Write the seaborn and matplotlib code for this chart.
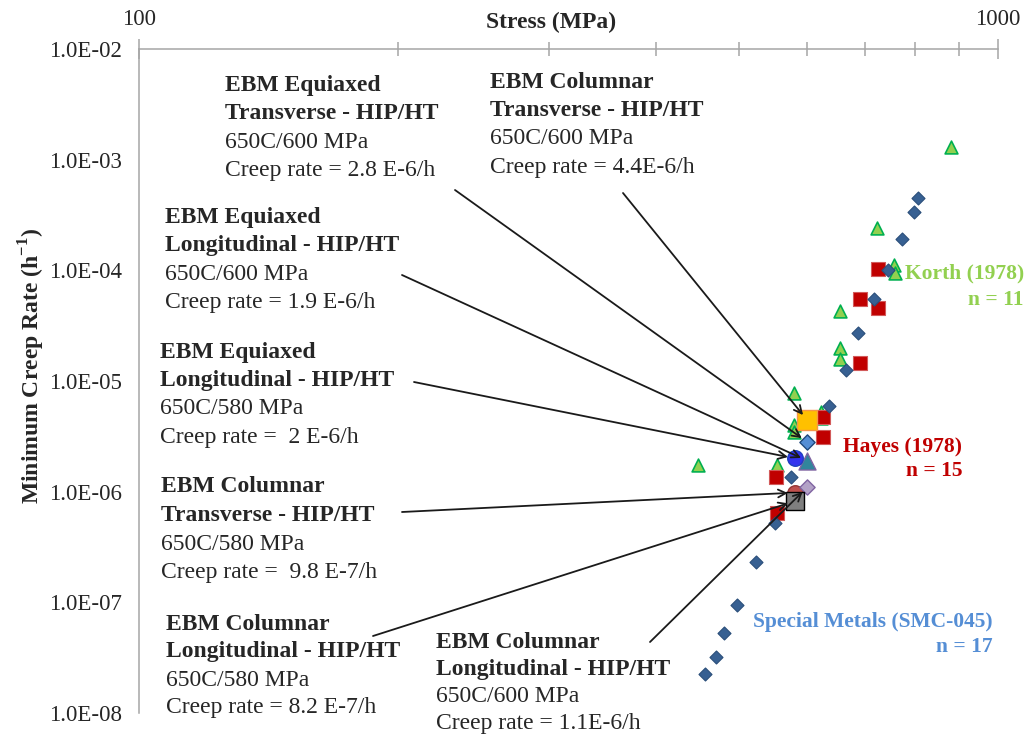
import numpy as np
import pandas as pd
import matplotlib
matplotlib.use("Agg")
import matplotlib.pyplot as plt
import matplotlib.ticker as mticker
import seaborn as sns

# ---------------- data ----------------
korth_stress = [882, 723, 757, 759, 655, 655, 655, 579, 622, 622, 579, 579, 448, 553]
korth_rate = [1.30e-3, 2.42e-4, 1.12e-4, 9.5e-5, 4.3e-5, 1.99e-5, 1.58e-5,
              7.8e-6, 5.26e-6, 4.64e-6, 4.0e-6, 3.47e-6, 1.75e-6, 1.75e-6]

hayes_stress = [725, 691, 725, 691, 626, 625, 551, 553]
hayes_rate = [1.03e-4, 5.52e-5, 4.57e-5, 1.46e-5, 4.74e-6, 3.13e-6, 1.36e-6, 6.43e-7]

smc_stress = [807, 798, 773, 745, 717, 687, 665, 636, 574, 550, 523, 497, 480, 470, 456]
smc_rate = [4.51e-4, 3.37e-4, 1.92e-4, 1.01e-4, 5.52e-5, 2.72e-5, 1.26e-5, 5.96e-6,
            1.36e-6, 5.23e-7, 2.32e-7, 9.5e-8, 5.3e-8, 3.22e-8, 2.26e-8]

ebm_labels = [
    ["EBM Columnar", "Transverse - HIP/HT", "650C/600 MPa", "Creep rate = 4.4E-6/h"],
    ["EBM Equiaxed", "Transverse - HIP/HT", "650C/600 MPa", "Creep rate = 2.8 E-6/h"],
    ["EBM Equiaxed", "Longitudinal - HIP/HT", "650C/600 MPa", "Creep rate = 1.9 E-6/h"],
    ["EBM Equiaxed", "Longitudinal - HIP/HT", "650C/580 MPa", "Creep rate =  2 E-6/h"],
    ["EBM Columnar", "Transverse - HIP/HT", "650C/580 MPa", "Creep rate =  9.8 E-7/h"],
    ["EBM Columnar", "Longitudinal - HIP/HT", "650C/600 MPa", "Creep rate = 1.1E-6/h"],
    ["EBM Columnar", "Longitudinal - HIP/HT", "650C/580 MPa", "Creep rate = 8.2 E-7/h"],
]
ebm_stress = [600, 600, 600, 580, 580, 600, 580]
ebm_rate = [4.4e-6, 2.8e-6, 1.9e-6, 2.0e-6, 9.8e-7, 1.1e-6, 8.2e-7]

series_labels = ["Korth (1978)", "Hayes (1978)", "Special Metals (SMC-045)"]
series_counts = ["n = 11", "n = 15", "n = 17"]

x_ticks = [100, 1000]
y_ticks = [1e-8, 1e-7, 1e-6, 1e-5, 1e-4, 1e-3, 1e-2]

x_label = "Stress (MPa)"
y_label = r"Minimum Creep Rate (h$^{\mathbf{-1}}$)"

# ---------------- styles ----------------
ebm_style = [  # marker, size, face, edge
    ("s", 190, "#FFC000", "#F79646"),
    ("D", 60, "#558ED5", "#1F497D"),
    ("^", 150, "#31859C", "#8064A2"),
    ("o", 125, "#3333EE", "#1F3FBF"),
    ("o", 125, "#C0504D", "#943634"),
    ("D", 60, "#B3A2C7", "#8064A2"),
    ("s", 170, "#7F7F7F", "#000000"),
]
# text blocks: left x px, first-line y px (from top), line step, arrow start px
blocks = [
    (490, 82, 28.5, (623, 193)),
    (225, 85, 28.5, (455, 190)),
    (165, 217, 28.5, (402, 275)),
    (160, 352, 28.5, (414, 382)),
    (161, 487, 28.5, (402, 512)),
    (436, 642, 27.0, (650, 642)),
    (166, 624, 28.0, (373, 636)),
]

W, H = 1028, 742
sns.set_style("white")
plt.rcParams["font.family"] = ["Liberation Serif", "DejaVu Serif"]
plt.rcParams["mathtext.fontset"] = "custom"
plt.rcParams["mathtext.rm"] = "Liberation Serif"
plt.rcParams["mathtext.bf"] = "Liberation Serif:bold"

fig = plt.figure(figsize=(W / 100, H / 100), dpi=100)
ax = fig.add_axes([139 / W, 1 - 713 / H, (998 - 139) / W, (713 - 49) / H])

sns.scatterplot(x=korth_stress, y=korth_rate, marker="^", s=85, color="#92D050",
                edgecolor="#00B050", linewidth=1.2, ax=ax, zorder=3)
sns.scatterplot(x=hayes_stress, y=hayes_rate, marker="s", s=88, color="#C00000",
                edgecolor="#D25A5A", linewidth=0.8, ax=ax, zorder=3)
sns.scatterplot(x=smc_stress, y=smc_rate, marker="D", s=44, color="#376092",
                edgecolor="#2A4E7A", linewidth=0.8, ax=ax, zorder=3)

for (st, rt, (mk, sz, fc, ec)) in zip(ebm_stress, ebm_rate, ebm_style):
    sns.scatterplot(x=[st], y=[rt], marker=mk, s=sz, color=fc, edgecolor=ec,
                    linewidth=1.0, ax=ax, zorder=4)

ax.set_xscale("log")
ax.set_yscale("log")
ax.set_xlim(100, 1000)
ax.set_ylim(1e-8, 1e-2)

for side in ["right", "bottom"]:
    ax.spines[side].set_visible(False)
for side in ["left", "top"]:
    ax.spines[side].set_color("#A6A6A6")
    ax.spines[side].set_linewidth(1.1)

ax.xaxis.tick_top()
ax.xaxis.set_major_locator(mticker.FixedLocator(x_ticks))
ax.xaxis.set_minor_locator(mticker.LogLocator(base=10, subs=np.arange(2, 10), numticks=50))
ax.xaxis.set_major_formatter(mticker.FuncFormatter(lambda v, p: f"{v:g}"))
ax.xaxis.set_minor_formatter(mticker.NullFormatter())
ax.yaxis.set_major_locator(mticker.FixedLocator(y_ticks))
ax.yaxis.set_minor_locator(mticker.LogLocator(base=10, subs=np.arange(2, 10), numticks=100))
ax.yaxis.set_major_formatter(mticker.FuncFormatter(lambda v, p: f"{v:.1E}"))
ax.yaxis.set_minor_formatter(mticker.NullFormatter())

ax.tick_params(axis="x", which="major", direction="inout", length=15, width=1.1,
               color="#A6A6A6", labelsize=16.5, pad=6, top=True, bottom=False,
               labeltop=True, labelbottom=False)
ax.tick_params(axis="x", which="minor", direction="inout", length=10, width=1.1,
               color="#A6A6A6", top=True, bottom=False)
ax.tick_params(axis="y", which="major", direction="inout", length=11, width=1.1,
               color="#A6A6A6", labelsize=16.5, pad=7)
ax.tick_params(axis="y", which="minor", direction="in", length=4.5, width=1.0,
               color="#A6A6A6")
ax.set_xlabel("")
ax.set_ylabel("")

fig.text(551 / W, 1 - 22 / H, x_label, ha="center", va="center",
         fontsize=17, fontweight="bold")
fig.text(32 / W, 1 - 366 / H, y_label, ha="center", va="center",
         rotation=90, fontsize=17, fontweight="bold")

# annotations
for (st, rt, lines, (bx, by, step, (axp, ayp))) in zip(ebm_stress, ebm_rate, ebm_labels, blocks):
    for i, ln in enumerate(lines):
        fig.text(bx / W, 1 - (by + i * step) / H, ln, ha="left", va="center",
                 fontsize=17, fontweight="bold" if i < 2 else "normal")
    ax.annotate("", xy=(st, rt), xycoords="data",
                xytext=(axp / W, 1 - ayp / H), textcoords="figure fraction",
                arrowprops=dict(arrowstyle="->", color="#1A1A1A", lw=1.3,
                                shrinkA=0, shrinkB=5, mutation_scale=14),
                zorder=6, annotation_clip=False)

# series labels
series_pos = [(1024, 273, 300, "#92D050"), (962, 447, 471, "#C00000"), (993, 622, 647, "#558ED5")]
for lab, cnt, (rx, y1, y2, col) in zip(series_labels, series_counts, series_pos):
    fig.text(rx / W, 1 - y1 / H, lab, ha="right", va="center", fontsize=15.5,
             fontweight="bold", color=col)
    fig.text(rx / W, 1 - y2 / H, cnt, ha="right", va="center", fontsize=15.5,
             fontweight="bold", color=col)

fig.savefig("out.png", dpi=100)
